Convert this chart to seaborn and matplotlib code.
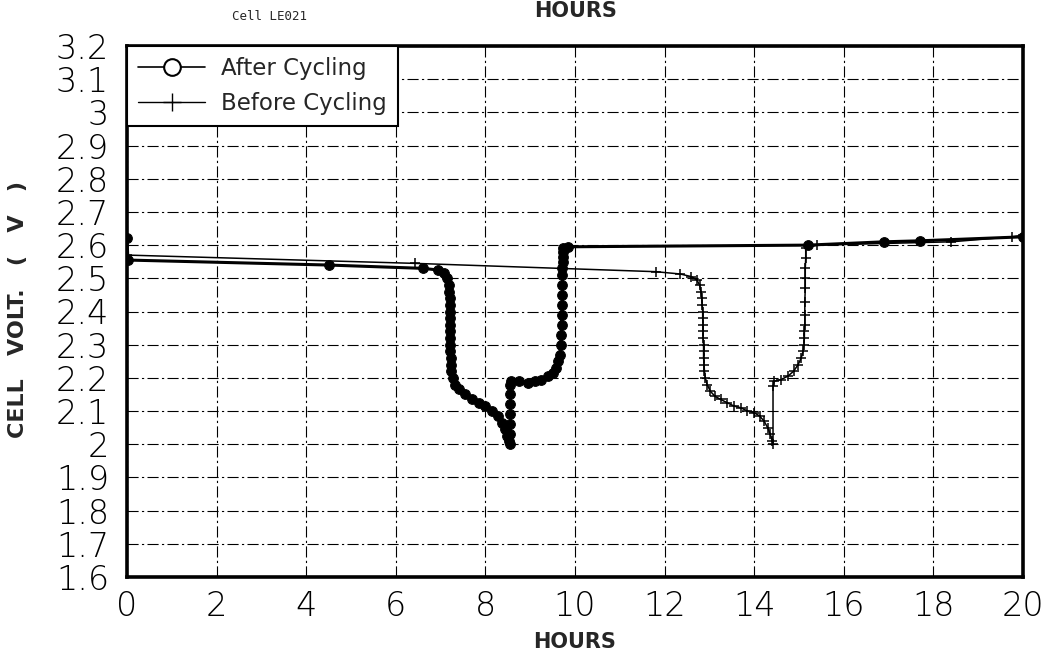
import matplotlib
matplotlib.use("Agg")
import matplotlib.pyplot as plt
from matplotlib.lines import Line2D
import pandas as pd
import seaborn as sns

# Discharge/charge curve of cell LE021 after cycling (hours, volts)
after_hours = [0.00, 0.02, 4.50, 6.60, 6.95, 7.08, 7.15, 7.18, 7.19, 7.20, 7.20, 7.21,
               7.21, 7.21, 7.22, 7.22, 7.22, 7.22, 7.23, 7.23, 7.24, 7.27, 7.33, 7.42,
               7.55, 7.70, 7.85, 8.00, 8.15, 8.28, 8.37, 8.44, 8.49, 8.53, 8.55, 8.56,
               8.56, 8.56, 8.56, 8.56, 8.56, 8.57, 8.75, 8.95, 9.10, 9.25, 9.40, 9.50,
               9.58, 9.63, 9.66, 9.68, 9.69, 9.70, 9.70, 9.71, 9.71, 9.72, 9.72, 9.72,
               9.73, 9.73, 9.73, 9.74, 9.85, 15.20, 16.90, 17.70, 20.00]
after_volts = [2.620, 2.555, 2.540, 2.530, 2.525, 2.515, 2.500, 2.480, 2.460, 2.440, 2.420, 2.400,
               2.380, 2.360, 2.340, 2.320, 2.300, 2.280, 2.260, 2.240, 2.220, 2.200, 2.180, 2.165,
               2.150, 2.135, 2.125, 2.115, 2.100, 2.085, 2.065, 2.045, 2.025, 2.010, 2.000, 2.030,
               2.060, 2.090, 2.120, 2.150, 2.180, 2.190, 2.190, 2.185, 2.190, 2.195, 2.205, 2.215,
               2.230, 2.250, 2.270, 2.300, 2.330, 2.360, 2.390, 2.420, 2.450, 2.480, 2.510, 2.530,
               2.550, 2.565, 2.580, 2.590, 2.595, 2.600, 2.610, 2.613, 2.625]

# Same cell before cycling
before_hours = [0.00, 6.43, 11.80, 12.35, 12.60, 12.72, 12.78, 12.81, 12.83, 12.84, 12.85, 12.85,
                12.86, 12.86, 12.86, 12.87, 12.87, 12.87, 12.88, 12.89, 12.91, 12.95, 13.02, 13.12,
                13.25, 13.40, 13.55, 13.70, 13.85, 14.00, 14.12, 14.22, 14.30, 14.36, 14.40, 14.42,
                14.42, 14.45, 14.60, 14.75, 14.88, 14.98, 15.05, 15.09, 15.11, 15.12, 15.12, 15.13,
                15.13, 15.13, 15.14, 15.14, 15.14, 15.15, 15.15, 15.40, 18.40, 19.75, 20.00]
before_volts = [2.570, 2.545, 2.520, 2.513, 2.505, 2.495, 2.480, 2.460, 2.440, 2.420, 2.400, 2.380,
                2.360, 2.340, 2.320, 2.300, 2.280, 2.260, 2.240, 2.220, 2.200, 2.180, 2.160, 2.145,
                2.135, 2.125, 2.115, 2.110, 2.100, 2.095, 2.085, 2.070, 2.050, 2.030, 2.010, 2.000,
                2.175, 2.190, 2.195, 2.205, 2.220, 2.240, 2.260, 2.280, 2.300, 2.320, 2.340, 2.360,
                2.390, 2.430, 2.470, 2.500, 2.530, 2.560, 2.590, 2.600, 2.610, 2.625, 2.630]

x_ticks = [0, 2, 4, 6, 8, 10, 12, 14, 16, 18, 20]
y_ticks = [1.6, 1.7, 1.8, 1.9, 2.0, 2.1, 2.2, 2.3, 2.4, 2.5, 2.6, 2.7, 2.8, 2.9, 3.0, 3.1, 3.2]
y_tick_labels = ["1.6", "1.7", "1.8", "1.9", "2", "2.1", "2.2", "2.3", "2.4", "2.5",
                 "2.6", "2.7", "2.8", "2.9", "3", "3.1", "3.2"]

sns.set_style("white")
plt.rcParams["font.family"] = ["DejaVu Sans"]

fig = plt.figure(figsize=(10.6, 6.57), dpi=100)
ax = fig.add_axes([127 / 1060, 1 - 577 / 657, 896 / 1060, 531 / 657])

after_df = pd.DataFrame({"hours": after_hours, "volts": after_volts})
before_df = pd.DataFrame({"hours": before_hours, "volts": before_volts})

sns.lineplot(data=before_df, x="hours", y="volts", sort=False, estimator=None, ax=ax,
             color="black", linewidth=1.1, marker="+", markersize=7,
             markeredgewidth=1.1, markeredgecolor="black", zorder=3)
sns.lineplot(data=after_df, x="hours", y="volts", sort=False, estimator=None, ax=ax,
             color="black", linewidth=2.2, marker="o", markersize=7,
             markerfacecolor="black", markeredgecolor="black", zorder=4)

ax.set_xlim(0, 20)
ax.set_ylim(1.6, 3.2)
ax.set_xticks(x_ticks)
ax.set_yticks(y_ticks, labels=y_tick_labels)
ax.set_xlabel("")
ax.set_ylabel("")

ax.set_axisbelow(True)
ax.grid(True, color="black", linewidth=0.8, linestyle=(0, (10, 3, 2, 3)))

for spine in ax.spines.values():
    spine.set_visible(True)
    spine.set_color("black")
    spine.set_linewidth(2.6)

ax.tick_params(axis="both", length=0, labelsize=24, colors="black")
ax.tick_params(axis="y", pad=13)
ax.tick_params(axis="x", pad=9)
for lbl in ax.get_xticklabels() + ax.get_yticklabels():
    lbl.set_fontweight("ultralight")

handles = [
    Line2D([], [], color="black", linewidth=1.2, marker="o", markersize=12,
           markerfacecolor="white", markeredgecolor="black", markeredgewidth=1.5),
    Line2D([], [], color="black", linewidth=1.0, marker="+", markersize=13,
           markeredgewidth=1.0),
]
leg = ax.legend(handles, ["After Cycling", "Before Cycling"], loc="upper left",
                bbox_to_anchor=(0, 1), borderaxespad=0, frameon=True, fancybox=False,
                edgecolor="black", fontsize=16.5, handlelength=2.9, borderpad=0.5,
                labelspacing=0.5, handletextpad=0.7, framealpha=1)
leg.get_frame().set_linewidth(1.5)

fig.text(18 / 1060, 1 - 310 / 657, "CELL   VOLT.   (   V   )", rotation=90, fontsize=16,
         fontweight="bold", ha="center", va="center")
fig.text(575 / 1060, 1 - 642 / 657, "HOURS", fontsize=15, fontweight="bold",
         ha="center", va="center")
fig.text(576 / 1060, 1 - 11 / 657, "HOURS", fontsize=15, fontweight="bold",
         ha="center", va="center")
fig.text(270 / 1060, 1 - 16 / 657, "Cell LE021", fontsize=9,
         family="DejaVu Sans Mono", ha="center", va="center")

fig.savefig("out.png", dpi=100)
